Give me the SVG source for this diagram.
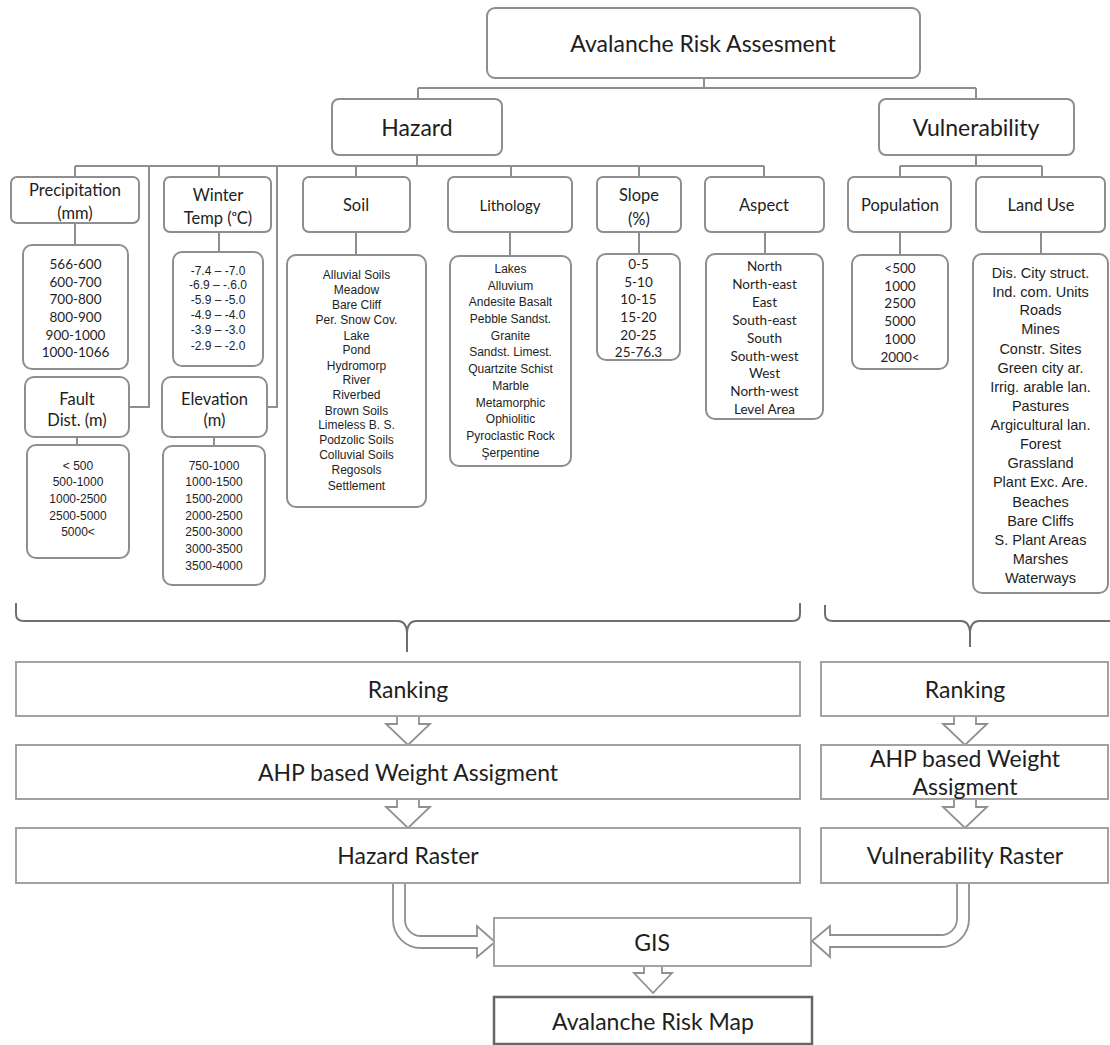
<svg xmlns="http://www.w3.org/2000/svg" width="1110" height="1045" viewBox="0 0 1110 1045">
<style>
.box{fill:#fff;stroke:#8e8e8e;stroke-width:2}
.fbox{fill:#fff;stroke:#a2a2a2;stroke-width:2}
.map{fill:#fff;stroke:#666;stroke-width:2.5}
.conn{fill:none;stroke:#8e8e8e;stroke-width:2}
.brace{fill:none;stroke:#6e6e6e;stroke-width:2}
.arr{fill:#fff;stroke:#909090;stroke-width:1.8;stroke-linejoin:miter}
text{fill:#1e1e1e;text-anchor:middle;dominant-baseline:central}
.big{font-family:Lato,"Open Sans",sans-serif;font-size:23px}
.hd{font-family:Lato,"Open Sans",sans-serif;font-size:16.5px}
.lith{font-family:Lato,"Open Sans",sans-serif;font-size:15px}
.v{font-family:Lato,"Open Sans",sans-serif;font-size:13.5px}
.n{font-family:"Liberation Sans",Arial,sans-serif;font-size:12px}
.lu{font-family:"Liberation Sans",Arial,sans-serif;font-size:14.5px}
</style>

<g id="connectors">
  <path class="conn" d="M704,78 V88 M418,88 H976 M418,88 V99 M976,88 V99"/>
  <path class="conn" d="M417,155 V166 M75,166 H764 M75,166 V177 M149,166 V407 H129 M219,166 V177 M277,166 V407 H267 M356,166 V177 M511,166 V177 M639,166 V177 M764,166 V177"/>
  <path class="conn" d="M976,155 V166 M900,166 H1042 M900,166 V177 M1042,166 V177"/>
  <path class="conn" d="M75,223 V245 M219,232 V252 M356,232 V255 M510,232 V256 M639,232 V254 M765,232 V254 M900,232 V255 M1041,232 V254 M77,437 V445 M214,437 V446"/>
  <path class="brace" d="M16,603 V614 Q16,621 24,621 H398 Q406,621 407,632 V652 M800,603 V614 Q800,621 792,621 H416 Q408,621 407,632"/>
  <path class="brace" d="M825,605 V614 Q825,621 833,621 H961 Q969,621 970,632 V647 M970,632 Q971,621 979,621 H1112"/>
  <g id="down-arrows">
    <path d="M397,713 V724 H386 L408,745 L430,724 H419 V713 Z" fill="#fff"/>
    <path class="arr" d="M397,716 V724 H386 L408,745 L430,724 H419 V716"/>
    <path d="M397,796 V807 H386 L408,828 L430,807 H419 V796 Z" fill="#fff"/>
    <path class="arr" d="M397,799 V807 H386 L408,828 L430,807 H419 V799"/>
    <path d="M954,713 V724 H943 L965,745 L987,724 H976 V713 Z" fill="#fff"/>
    <path class="arr" d="M954,716 V724 H943 L965,745 L987,724 H976 V716"/>
    <path d="M954,796 V807 H943 L965,828 L987,807 H976 V796 Z" fill="#fff"/>
    <path class="arr" d="M954,799 V807 H943 L965,828 L987,807 H976 V799"/>
    <path d="M644,963 V973 H634 L653,993 L672,973 H662 V963 Z" fill="#fff"/>
    <path class="arr" d="M644,966 V973 H634 L653,993 L672,973 H662 V966"/>
  </g>
  <g id="pipe-arrows">
    <path d="M393,881 V920 A28,28 0 0 0 421,948 H477 V957 L495,942 L477,926 V936 H421 A16,16 0 0 1 405,920 V881 Z" fill="#fff"/>
    <path class="arr" d="M393,883 V920 A28,28 0 0 0 421,948 H477 V957 L495,942 L477,926 V936 H421 A16,16 0 0 1 405,920 V883"/>
    <path d="M969,881 V919 A28,28 0 0 1 941,947 H830 V957 L812,941 L830,926 V935 H941 A16,16 0 0 0 957,919 V881 Z" fill="#fff"/>
    <path class="arr" d="M969,883 V919 A28,28 0 0 1 941,947 H830 V957 L812,941 L830,926 V935 H941 A16,16 0 0 0 957,919 V883"/>
  </g>
</g>

<g id="risk-assessment"><rect class="box" x="487" y="8" width="433" height="70" rx="8"/><text class="big" x="703" y="43">Avalanche Risk Assesment</text></g>
<g id="hazard"><rect class="box" x="332" y="99" width="170" height="56" rx="7"/><text class="big" x="417" y="127">Hazard</text></g>
<g id="vulnerability"><rect class="box" x="879" y="99" width="195" height="56" rx="7"/><text class="big" x="976" y="127">Vulnerability</text></g>

<g id="precipitation"><rect class="box" x="11" y="177" width="128" height="46" rx="6"/><text class="hd" x="75" y="190">Precipitation</text><text class="hd" x="75" y="213">(mm)</text></g>
<g id="winter-temp"><rect class="box" x="164" y="177" width="107" height="55" rx="6"/><text class="hd" x="218" y="195">Winter</text><text class="hd" x="218" y="218">Temp (ᵒC)</text></g>
<g id="soil"><rect class="box" x="303" y="177" width="107" height="55" rx="6"/><text class="hd" x="356" y="205">Soil</text></g>
<g id="lithology"><rect class="box" x="448" y="177" width="124" height="55" rx="6"/><text class="lith" x="510" y="205">Lithology</text></g>
<g id="slope"><rect class="box" x="597" y="177" width="84" height="55" rx="6"/><text class="hd" x="639" y="195">Slope</text><text class="hd" x="639" y="219">(%)</text></g>
<g id="aspect"><rect class="box" x="705" y="177" width="119" height="55" rx="6"/><text class="hd" x="764" y="205">Aspect</text></g>
<g id="population"><rect class="box" x="848" y="177" width="103" height="55" rx="6"/><text class="hd" x="900" y="205">Population</text></g>
<g id="land-use"><rect class="box" x="976" y="177" width="129" height="55" rx="6"/><text class="hd" x="1041" y="205">Land Use</text></g>

<g id="precipitation-values"><rect class="box" x="23" y="245" width="105" height="124" rx="9"/>
<text class="v" x="75.5" y="264">566-600</text><text class="v" x="75.5" y="282">600-700</text><text class="v" x="75.5" y="299">700-800</text><text class="v" x="75.5" y="317">800-900</text><text class="v" x="75.5" y="335">900-1000</text><text class="v" x="75.5" y="352">1000-1066</text></g>

<g id="fault-dist"><rect class="box" x="25" y="377" width="104" height="60" rx="9"/><text class="hd" x="77" y="399">Fault</text><text class="hd" x="77" y="420">Dist. (m)</text></g>
<g id="fault-values"><rect class="box" x="27" y="445" width="102" height="113" rx="9"/>
<text class="n" x="78" y="466">&lt; 500</text><text class="n" x="78" y="482">500-1000</text><text class="n" x="78" y="499">1000-2500</text><text class="n" x="78" y="516">2500-5000</text><text class="n" x="78" y="532">5000&lt;</text></g>

<g id="winter-values"><rect class="box" x="173" y="252" width="90" height="114" rx="9"/>
<text class="n" x="218" y="271">-7.4 – -7.0</text><text class="n" x="218" y="285">-6.9 – -.6.0</text><text class="n" x="218" y="300">-5.9 – -5.0</text><text class="n" x="218" y="315">-4.9 – -4.0</text><text class="n" x="218" y="330">-3.9 – -3.0</text><text class="n" x="218" y="346">-2.9 – -2.0</text></g>

<g id="elevation"><rect class="box" x="162" y="377" width="105" height="60" rx="9"/><text class="hd" x="214.5" y="399">Elevation</text><text class="hd" x="214.5" y="420">(m)</text></g>
<g id="elevation-values"><rect class="box" x="163" y="446" width="102" height="139" rx="9"/>
<text class="n" x="214" y="466">750-1000</text><text class="n" x="214" y="482">1000-1500</text><text class="n" x="214" y="499">1500-2000</text><text class="n" x="214" y="516">2000-2500</text><text class="n" x="214" y="532">2500-3000</text><text class="n" x="214" y="549">3000-3500</text><text class="n" x="214" y="566">3500-4000</text></g>

<g id="soil-values"><rect class="box" x="287" y="255" width="139" height="252" rx="9"/>
<text class="n" x="356.5" y="275">Alluvial Soils</text><text class="n" x="356.5" y="290">Meadow</text><text class="n" x="356.5" y="305">Bare Cliff</text><text class="n" x="356.5" y="320">Per. Snow Cov.</text><text class="n" x="356.5" y="336">Lake</text><text class="n" x="356.5" y="350">Pond</text><text class="n" x="356.5" y="366">Hydromorp</text><text class="n" x="356.5" y="380">River</text><text class="n" x="356.5" y="395">Riverbed</text><text class="n" x="356.5" y="411">Brown Soils</text><text class="n" x="356.5" y="425">Limeless B. S.</text><text class="n" x="356.5" y="440">Podzolic Soils</text><text class="n" x="356.5" y="455">Colluvial Soils</text><text class="n" x="356.5" y="470">Regosols</text><text class="n" x="356.5" y="486">Settlement</text></g>

<g id="lithology-values"><rect class="box" x="450" y="256" width="121" height="210" rx="9"/>
<text class="n" x="510.5" y="269">Lakes</text><text class="n" x="510.5" y="286">Alluvium</text><text class="n" x="510.5" y="302">Andesite Basalt</text><text class="n" x="510.5" y="319">Pebble Sandst.</text><text class="n" x="510.5" y="336">Granite</text><text class="n" x="510.5" y="352">Sandst. Limest.</text><text class="n" x="510.5" y="369">Quartzite Schist</text><text class="n" x="510.5" y="386">Marble</text><text class="n" x="510.5" y="403">Metamorphic</text><text class="n" x="510.5" y="419">Ophiolitic</text><text class="n" x="510.5" y="436">Pyroclastic Rock</text><text class="n" x="510.5" y="453">Şerpentine</text></g>

<g id="slope-values"><rect class="box" x="597" y="254" width="83" height="106" rx="9"/>
<text class="v" x="638.5" y="264">0-5</text><text class="v" x="638.5" y="282">5-10</text><text class="v" x="638.5" y="299">10-15</text><text class="v" x="638.5" y="317">15-20</text><text class="v" x="638.5" y="335">20-25</text><text class="v" x="638.5" y="352">25-76.3</text></g>

<g id="aspect-values"><rect class="box" x="706" y="254" width="117" height="165" rx="9"/>
<text class="v" x="764.5" y="266">North</text><text class="v" x="764.5" y="284">North-east</text><text class="v" x="764.5" y="302">East</text><text class="v" x="764.5" y="320">South-east</text><text class="v" x="764.5" y="338">South</text><text class="v" x="764.5" y="356">South-west</text><text class="v" x="764.5" y="373">West</text><text class="v" x="764.5" y="391">North-west</text><text class="v" x="764.5" y="409">Level Area</text></g>

<g id="population-values"><rect class="box" x="852" y="255" width="96" height="114" rx="9"/>
<text class="v" x="900" y="268">&lt;500</text><text class="v" x="900" y="286">1000</text><text class="v" x="900" y="303">2500</text><text class="v" x="900" y="321">5000</text><text class="v" x="900" y="339">1000</text><text class="v" x="900" y="357">2000&lt;</text></g>

<g id="land-use-values"><rect class="box" x="973" y="254" width="135" height="339" rx="9"/>
<text class="lu" x="1040.5" y="273">Dis. City struct.</text><text class="lu" x="1040.5" y="292">Ind. com. Units</text><text class="lu" x="1040.5" y="310">Roads</text><text class="lu" x="1040.5" y="329">Mines</text><text class="lu" x="1040.5" y="349">Constr. Sites</text><text class="lu" x="1040.5" y="368">Green city ar.</text><text class="lu" x="1040.5" y="387">Irrig. arable lan.</text><text class="lu" x="1040.5" y="406">Pastures</text><text class="lu" x="1040.5" y="425">Argicultural lan.</text><text class="lu" x="1040.5" y="444">Forest</text><text class="lu" x="1040.5" y="463">Grassland</text><text class="lu" x="1040.5" y="482">Plant Exc. Are.</text><text class="lu" x="1040.5" y="502">Beaches</text><text class="lu" x="1040.5" y="521">Bare Cliffs</text><text class="lu" x="1040.5" y="540">S. Plant Areas</text><text class="lu" x="1040.5" y="559">Marshes</text><text class="lu" x="1040.5" y="578">Waterways</text></g>

<g id="hazard-ranking"><rect class="fbox" x="16" y="662" width="784" height="54"/><text class="big" x="408" y="689">Ranking</text></g>
<g id="hazard-ahp"><rect class="fbox" x="16" y="745" width="784" height="54"/><text class="big" x="408" y="772">AHP based Weight Assigment</text></g>
<g id="hazard-raster"><rect class="fbox" x="16" y="828" width="784" height="55"/><text class="big" x="408" y="855">Hazard Raster</text></g>
<g id="vulnerability-ranking"><rect class="fbox" x="821" y="662" width="287" height="54"/><text class="big" x="965" y="689">Ranking</text></g>
<g id="vulnerability-ahp"><rect class="fbox" x="821" y="745" width="287" height="54"/><text class="big" x="965" y="758">AHP based Weight</text><text class="big" x="965" y="786">Assigment</text></g>
<g id="vulnerability-raster"><rect class="fbox" x="821" y="828" width="287" height="55"/><text class="big" x="965" y="855">Vulnerability Raster</text></g>
<g id="gis"><rect class="fbox" x="494" y="918" width="317" height="48"/><text class="big" x="652" y="942">GIS</text></g>
<g id="risk-map"><rect class="map" x="494" y="997" width="318" height="47"/><text class="big" x="653" y="1021">Avalanche Risk Map</text></g>
</svg>
